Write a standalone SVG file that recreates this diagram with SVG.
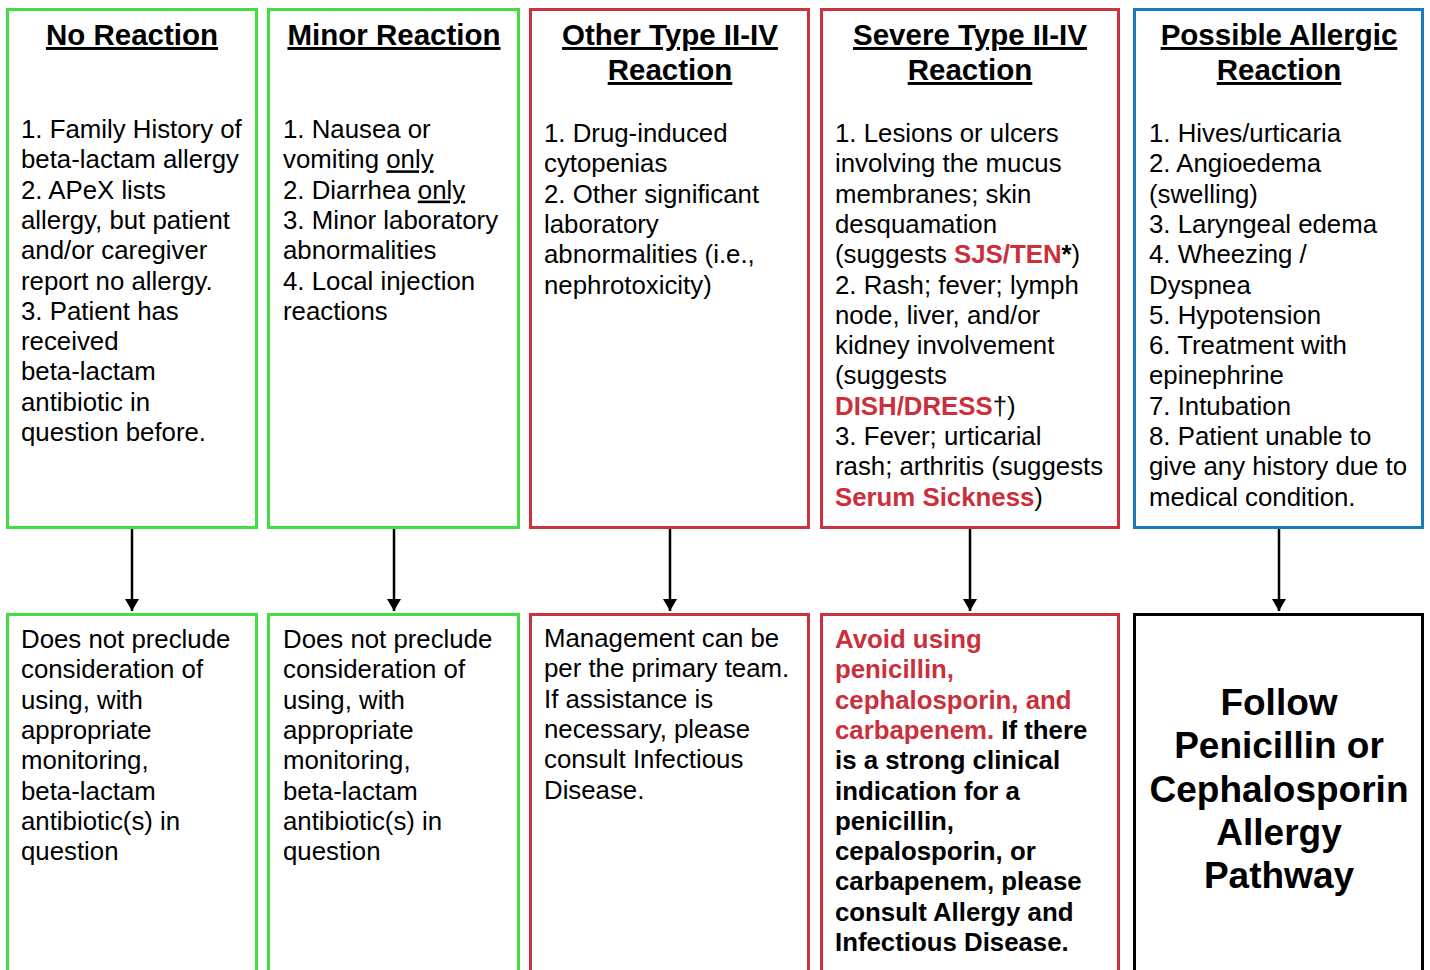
<svg xmlns="http://www.w3.org/2000/svg" width="1430" height="970" viewBox="0 0 1430 970">
<style>
text{font-family:"Liberation Sans",Arial,sans-serif;fill:#000}
.t{font-size:29.5px;font-weight:bold;text-anchor:middle;text-decoration:underline}
.b{font-size:25.8px}
.bb{font-size:25.8px;font-weight:bold}
.r{fill:#cc2f3c;font-weight:bold}
.u{text-decoration:underline}
.big{font-size:37px;font-weight:bold;text-anchor:middle}
.g{fill:#fff;stroke:#44dd44;stroke-width:3}
.rd{fill:#fff;stroke:#cc3341;stroke-width:3}
.bl{fill:#fff;stroke:#1a7cc0;stroke-width:3}
.k{fill:#fff;stroke:#000;stroke-width:3}
.c{stroke:#000;stroke-width:2.5;fill:none}
</style>
<defs>
<marker id="ah" viewBox="0 0 12 14" refX="12" refY="7" markerWidth="12" markerHeight="14" markerUnits="userSpaceOnUse" orient="auto">
<path d="M0,0 L12,7 L0,14 z" fill="#000"/>
</marker>
</defs>
<rect width="1430" height="970" fill="#fff"/>

<g id="n1">
<rect class="g" x="7.5" y="9.5" width="249" height="518"/>
<text class="t" x="132" y="45">No Reaction</text>
<text class="b" x="21">
<tspan x="21" y="138">1. Family History of</tspan>
<tspan x="21" y="168.3">beta-lactam allergy</tspan>
<tspan x="21" y="198.6">2. APeX lists</tspan>
<tspan x="21" y="228.9">allergy, but patient</tspan>
<tspan x="21" y="259.2">and/or caregiver</tspan>
<tspan x="21" y="289.5">report no allergy.</tspan>
<tspan x="21" y="319.8">3. Patient has</tspan>
<tspan x="21" y="350.1">received</tspan>
<tspan x="21" y="380.4">beta-lactam</tspan>
<tspan x="21" y="410.7">antibiotic in</tspan>
<tspan x="21" y="441">question before.</tspan>
</text>
</g>

<g id="n2">
<rect class="g" x="268.5" y="9.5" width="250" height="518"/>
<text class="t" x="394" y="45">Minor Reaction</text>
<text class="b">
<tspan x="283" y="138">1. Nausea or</tspan>
<tspan x="283" y="168.3">vomiting <tspan class="u">only</tspan></tspan>
<tspan x="283" y="198.6">2. Diarrhea <tspan class="u">only</tspan></tspan>
<tspan x="283" y="228.9">3. Minor laboratory</tspan>
<tspan x="283" y="259.2">abnormalities</tspan>
<tspan x="283" y="289.5">4. Local injection</tspan>
<tspan x="283" y="319.8">reactions</tspan>
</text>
</g>

<g id="n3">
<rect class="rd" x="530.5" y="9.5" width="278" height="518"/>
<text class="t" x="670" y="45">Other Type II-IV</text>
<text class="t" x="670" y="80">Reaction</text>
<text class="b">
<tspan x="544" y="142">1. Drug-induced</tspan>
<tspan x="544" y="172.3">cytopenias</tspan>
<tspan x="544" y="202.6">2. Other significant</tspan>
<tspan x="544" y="232.9">laboratory</tspan>
<tspan x="544" y="263.2">abnormalities (i.e.,</tspan>
<tspan x="544" y="293.5">nephrotoxicity)</tspan>
</text>
</g>

<g id="n4">
<rect class="rd" x="821.5" y="9.5" width="297" height="518"/>
<text class="t" x="970" y="45">Severe Type II-IV</text>
<text class="t" x="970" y="80">Reaction</text>
<text class="b">
<tspan x="835" y="142">1. Lesions or ulcers</tspan>
<tspan x="835" y="172.3">involving the mucus</tspan>
<tspan x="835" y="202.6">membranes; skin</tspan>
<tspan x="835" y="232.9">desquamation</tspan>
<tspan x="835" y="263.2">(suggests <tspan class="r">SJS/TEN</tspan><tspan font-weight="bold">*</tspan>)</tspan>
<tspan x="835" y="293.5">2. Rash; fever; lymph</tspan>
<tspan x="835" y="323.8">node, liver, and/or</tspan>
<tspan x="835" y="354.1">kidney involvement</tspan>
<tspan x="835" y="384.4">(suggests</tspan>
<tspan x="835" y="414.7"><tspan class="r">DISH/DRESS</tspan>†)</tspan>
<tspan x="835" y="445">3. Fever; urticarial</tspan>
<tspan x="835" y="475.3">rash; arthritis (suggests</tspan>
<tspan x="835" y="505.6"><tspan class="r">Serum Sickness</tspan>)</tspan>
</text>
</g>

<g id="n5">
<rect class="bl" x="1134.5" y="9.5" width="288" height="518"/>
<text class="t" x="1279" y="45">Possible Allergic</text>
<text class="t" x="1279" y="80">Reaction</text>
<text class="b">
<tspan x="1149" y="142">1. Hives/urticaria</tspan>
<tspan x="1149" y="172.3">2. Angioedema</tspan>
<tspan x="1149" y="202.6">(swelling)</tspan>
<tspan x="1149" y="232.9">3. Laryngeal edema</tspan>
<tspan x="1149" y="263.2">4. Wheezing /</tspan>
<tspan x="1149" y="293.5">Dyspnea</tspan>
<tspan x="1149" y="323.8">5. Hypotension</tspan>
<tspan x="1149" y="354.1">6. Treatment with</tspan>
<tspan x="1149" y="384.4">epinephrine</tspan>
<tspan x="1149" y="414.7">7. Intubation</tspan>
<tspan x="1149" y="445">8. Patient unable to</tspan>
<tspan x="1149" y="475.3">give any history due to</tspan>
<tspan x="1149" y="505.6">medical condition.</tspan>
</text>
</g>

<g id="n6">
<rect class="g" x="7.5" y="614.5" width="249" height="380"/>
<text class="b">
<tspan x="21" y="648">Does not preclude</tspan>
<tspan x="21" y="678.3">consideration of</tspan>
<tspan x="21" y="708.6">using, with</tspan>
<tspan x="21" y="738.9">appropriate</tspan>
<tspan x="21" y="769.2">monitoring,</tspan>
<tspan x="21" y="799.5">beta-lactam</tspan>
<tspan x="21" y="829.8">antibiotic(s) in</tspan>
<tspan x="21" y="860.1">question</tspan>
</text>
</g>

<g id="n7">
<rect class="g" x="268.5" y="614.5" width="250" height="380"/>
<text class="b">
<tspan x="283" y="648">Does not preclude</tspan>
<tspan x="283" y="678.3">consideration of</tspan>
<tspan x="283" y="708.6">using, with</tspan>
<tspan x="283" y="738.9">appropriate</tspan>
<tspan x="283" y="769.2">monitoring,</tspan>
<tspan x="283" y="799.5">beta-lactam</tspan>
<tspan x="283" y="829.8">antibiotic(s) in</tspan>
<tspan x="283" y="860.1">question</tspan>
</text>
</g>

<g id="n8">
<rect class="rd" x="530.5" y="614.5" width="278" height="380"/>
<text class="b">
<tspan x="544" y="647">Management can be</tspan>
<tspan x="544" y="677.3">per the primary team.</tspan>
<tspan x="544" y="707.6">If assistance is</tspan>
<tspan x="544" y="737.9">necessary, please</tspan>
<tspan x="544" y="768.2">consult Infectious</tspan>
<tspan x="544" y="798.5">Disease.</tspan>
</text>
</g>

<g id="n9">
<rect class="rd" x="821.5" y="614.5" width="297" height="380"/>
<text class="bb">
<tspan x="835" y="648" class="r">Avoid using</tspan>
<tspan x="835" y="678.3" class="r">penicillin,</tspan>
<tspan x="835" y="708.6" class="r">cephalosporin, and</tspan>
<tspan x="835" y="738.9"><tspan class="r">carbapenem.</tspan> If there</tspan>
<tspan x="835" y="769.2">is a strong clinical</tspan>
<tspan x="835" y="799.5">indication for a</tspan>
<tspan x="835" y="829.8">penicillin,</tspan>
<tspan x="835" y="860.1">cepalosporin, or</tspan>
<tspan x="835" y="890.4">carbapenem, please</tspan>
<tspan x="835" y="920.7">consult Allergy and</tspan>
<tspan x="835" y="951">Infectious Disease.</tspan>
</text>
</g>

<g id="n10">
<rect class="k" x="1134.5" y="614.5" width="288" height="380"/>
<text class="big" x="1279" y="715">Follow</text>
<text class="big" x="1279" y="758.3">Penicillin or</text>
<text class="big" x="1279" y="801.6">Cephalosporin</text>
<text class="big" x="1279" y="844.9">Allergy</text>
<text class="big" x="1279" y="888.2">Pathway</text>
</g>

<g id="connectors">
<line class="c" x1="132" y1="529" x2="132" y2="611" marker-end="url(#ah)"/>
<line class="c" x1="394" y1="529" x2="394" y2="611" marker-end="url(#ah)"/>
<line class="c" x1="670" y1="529" x2="670" y2="611" marker-end="url(#ah)"/>
<line class="c" x1="970" y1="529" x2="970" y2="611" marker-end="url(#ah)"/>
<line class="c" x1="1279" y1="529" x2="1279" y2="611" marker-end="url(#ah)"/>
</g>
</svg>
